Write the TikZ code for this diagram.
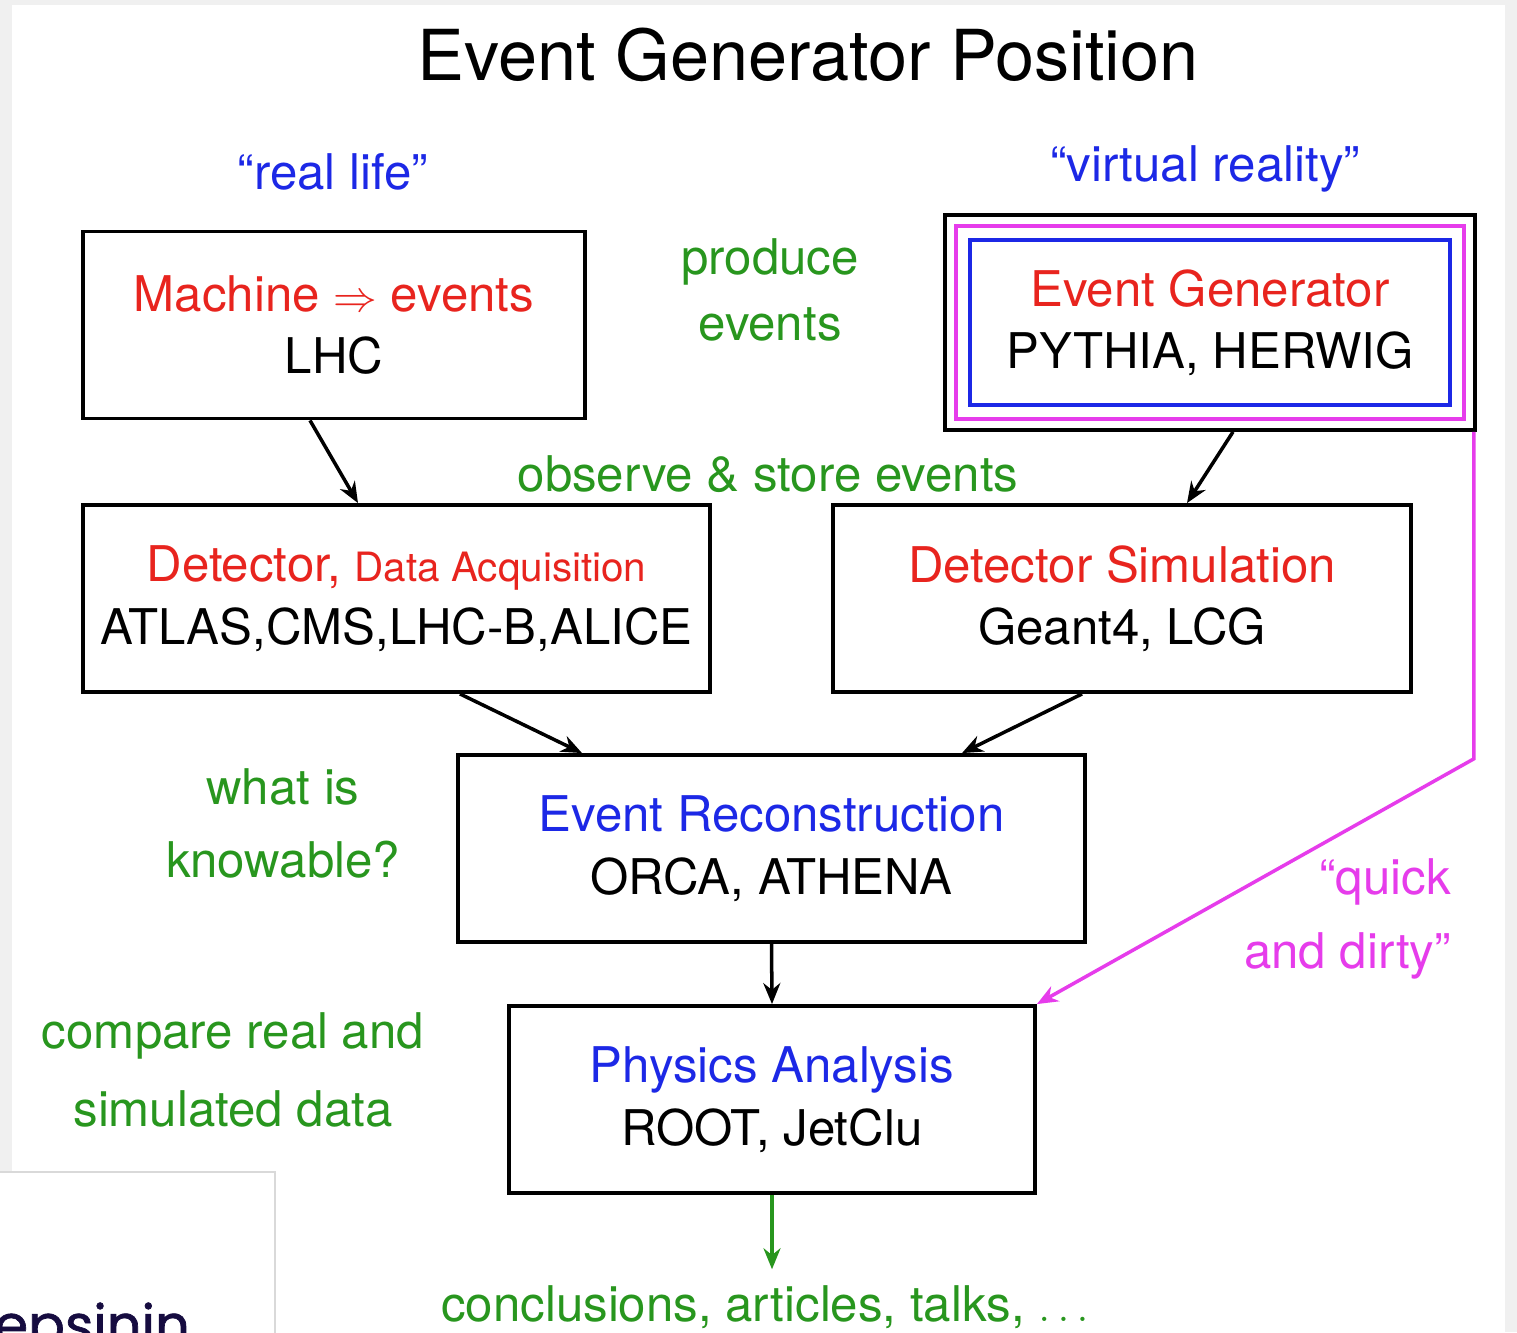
\documentclass[tikz,border=0pt]{standalone}
\usepackage{fontspec}
\setmainfont{TeX Gyre Heros}
\newfontfamily\wmfont[FakeBold=1.2]{Poppins}
\definecolor{egred}{RGB}{232,36,30}
\definecolor{egblue}{RGB}{28,40,230}
\definecolor{eggreen}{RGB}{40,150,30}
\definecolor{egmagenta}{RGB}{230,60,235}
\definecolor{egnavy}{RGB}{22,12,64}
\usetikzlibrary{arrows.meta,positioning,calc,fit}

\tikzset{
  stage/.style={draw,line width=2.2pt,minimum width=#1,minimum height=3.74cm,
        align=center,font=\fontsize{28}{35.5}\selectfont,fill=white},
  note/.style={text=eggreen,align=center,font=\fontsize{28}{#1}\selectfont},
  flow/.style={-{Stealth[length=0.42cm,width=0.34cm]},line width=2pt},
}

\begin{document}
\begin{tikzpicture}[x=0.02cm,y=-0.02cm]
  \useasboundingbox (0,0) rectangle (1517,1332);
  \fill[gray!12] (0,0) rectangle (1517,1332);
  \fill[white] (12,5) rectangle (1505,1332);

  \node[font=\fontsize{40}{48}\selectfont] (title) at (808,55) {Event Generator Position};
  \node[text=egblue,font=\fontsize{28}{34}\selectfont] (real) at (333,172) {“real life”};
  \node[text=egblue,font=\fontsize{28}{34}\selectfont] (virt) at (1205,169) {“virtual reality”};

  % boxes
  \node[stage=10.04cm] (mach) at (334,325)
        {{\color{egred}Machine $\Rightarrow$ events}\\LHC};
  \node[stage=9.6cm,minimum height=3.3cm,draw=egblue] (evgen) at (1210,322.5)
        {{\color{egred}Event Generator}\\PYTHIA, HERWIG};
  \node[draw=egmagenta,line width=2.2pt,inner sep=0.25cm,fit=(evgen)] (evmid) {};
  \node[draw,line width=2.2pt,inner sep=0.46cm,fit=(evgen)] (evouter) {};
  \node[stage=12.54cm] (det) at (396.5,598.5)
        {{\color{egred}Detector, {\fontsize{23}{28}\selectfont Data Acquisition}}\\ATLAS,CMS,LHC-B,ALICE};
  \node[stage=11.56cm] (detsim) at (1122,598.5)
        {{\color{egred}Detector Simulation}\\Geant4, LCG};
  \node[stage=12.54cm] (reco) at (771.5,848.5)
        {{\color{egblue}Event Reconstruction}\\ORCA, ATHENA};
  \node[stage=10.52cm] (phys) at (772,1099.5)
        {{\color{egblue}Physics Analysis}\\ROOT, JetClu};

  % green notes
  \node[note=38] (produce) at (770,290) {produce\\events};
  \node[note=34] (observe) at (768,474) {observe \& store events};
  \node[note=41.5] (know) at (283,823) {what is\\knowable?};
  \node[note=44] (compare) at (233,1070) {compare real and\\simulated data};
  \node[note=34] (concl) at (765,1307) {conclusions, articles, talks, $\ldots$};
  \node[text=egmagenta,align=right,anchor=east,font=\fontsize{28}{42.5}\selectfont]
        (quick) at (1457,919) {“quick\\and dirty”};

  % connectors
  \draw[flow] ([xshift=-0.48cm]mach.south) -- ([xshift=-0.77cm]det.north);
  \draw[flow] ([xshift=0.46cm]evouter.south) -- ([xshift=1.3cm]detsim.north);
  \draw[flow] ([xshift=1.27cm]det.south) -- ([xshift=-3.79cm]reco.north);
  \draw[flow] ([xshift=-0.8cm]detsim.south) -- ([xshift=3.81cm]reco.north);
  \draw[flow] (reco.south) -- (phys.north);
  \draw[flow,eggreen] (phys.south) -- ([yshift=0.2cm]phys.south |- concl.north);
  \draw[flow,egmagenta] ([xshift=-0.06cm]evouter.south east) -- ++(0,327) -- (phys.north east);

  % corner overlay
  \begin{scope}
    \clip (0,0) rectangle (1517,1332);
    \draw[gray!30,line width=1pt,fill=white] (-5,1172) rectangle (275,1345);
    \node[anchor=base west,inner sep=0pt,text=egnavy,font=\wmfont\fontsize{31}{36}\selectfont]
          (wm) at (-6,1344) {epsinin};
  \end{scope}
\end{tikzpicture}
\end{document}
